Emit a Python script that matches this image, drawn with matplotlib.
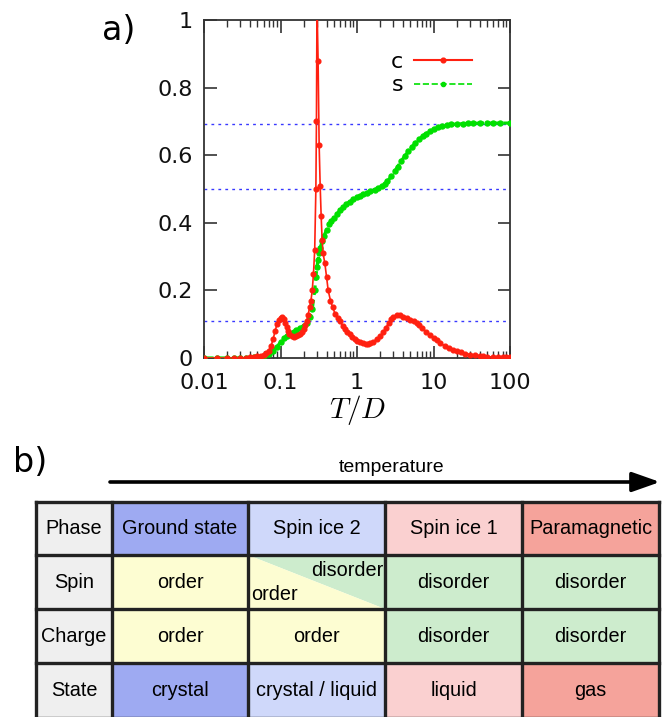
import matplotlib
matplotlib.use("Agg")
import matplotlib.pyplot as plt
from matplotlib.patches import Rectangle, Polygon
from matplotlib.lines import Line2D
from matplotlib.ticker import LogLocator, NullFormatter

plt.rcParams['mathtext.fontset'] = 'cm'

# ---------------- data ----------------
T_c = [0.01, 0.015, 0.02, 0.025, 0.03, 0.035, 0.04, 0.045, 0.05, 0.055, 0.06, 0.065, 0.07,
       0.075, 0.08, 0.085, 0.09, 0.095, 0.1, 0.105, 0.11, 0.115, 0.12, 0.125, 0.13, 0.14,
       0.15, 0.16, 0.17, 0.18, 0.19, 0.2, 0.21, 0.22, 0.23, 0.24, 0.25, 0.26, 0.27, 0.28,
       0.29, 0.295, 0.30, 0.31, 0.32, 0.33, 0.34, 0.35, 0.36, 0.38, 0.40, 0.42, 0.45, 0.48,
       0.52, 0.56, 0.60, 0.65, 0.70, 0.75, 0.80, 0.87, 0.95, 1.0, 1.1, 1.2, 1.3, 1.4, 1.5,
       1.6, 1.8, 2.0, 2.2, 2.4, 2.6, 2.8, 3.0, 3.3, 3.6, 4.0, 4.5, 5.0, 5.5, 6.0, 6.5, 7.0,
       8.0, 9.0, 10, 11, 12, 14, 16, 18, 20, 23, 26, 30, 35, 40, 45, 50, 60, 70, 80, 90, 100]
C_vals = [0.0, 0.0, 0.0, 0.0, 0.0, 0.001, 0.002, 0.003, 0.005, 0.007, 0.01, 0.015, 0.022,
          0.035, 0.055, 0.08, 0.1, 0.112, 0.118, 0.12, 0.115, 0.105, 0.092, 0.08, 0.072,
          0.066, 0.063, 0.064, 0.067, 0.071, 0.077, 0.086, 0.098, 0.11, 0.128, 0.15, 0.17,
          0.2, 0.25, 0.32, 0.5, 0.7, 1.05, 0.88, 0.63, 0.51, 0.42, 0.35, 0.31, 0.28, 0.24,
          0.20, 0.17, 0.15, 0.13, 0.118, 0.108, 0.095, 0.085, 0.077, 0.07, 0.062, 0.055,
          0.051, 0.046, 0.043, 0.042, 0.042, 0.044, 0.047, 0.055, 0.065, 0.077, 0.09, 0.105,
          0.115, 0.122, 0.127, 0.126, 0.122, 0.117, 0.112, 0.108, 0.103, 0.097, 0.09, 0.078,
          0.068, 0.059, 0.052, 0.045, 0.036, 0.03, 0.025, 0.021, 0.017, 0.013, 0.01, 0.008,
          0.006, 0.005, 0.004, 0.003, 0.003, 0.002, 0.002, 0.002]

T_s = [0.01, 0.015, 0.02, 0.025, 0.03, 0.035, 0.04, 0.045, 0.05, 0.06, 0.07, 0.08, 0.09,
       0.1, 0.11, 0.12, 0.13, 0.14, 0.15, 0.16, 0.18, 0.2, 0.22, 0.24, 0.26, 0.28, 0.29,
       0.30, 0.31, 0.32, 0.33, 0.35, 0.37, 0.4, 0.43, 0.46, 0.5, 0.55, 0.6, 0.66, 0.72,
       0.8, 0.9, 1.0, 1.1, 1.2, 1.35, 1.5, 1.7, 1.9, 2.1, 2.3, 2.5, 2.8, 3.1, 3.4, 3.8,
       4.2, 4.7, 5.2, 5.8, 6.5, 7.2, 8, 9, 10, 11.5, 13, 15, 17, 20, 24, 28, 33, 40, 50,
       60, 75, 100]
S_vals = [0.0, 0.0, 0.0, 0.0, 0.0, 0.0, 0.001, 0.002, 0.003, 0.007, 0.013, 0.022, 0.033,
          0.047, 0.058, 0.065, 0.07, 0.074, 0.078, 0.082, 0.088, 0.096, 0.105, 0.12, 0.145,
          0.2, 0.24, 0.27, 0.29, 0.31, 0.325, 0.345, 0.36, 0.38, 0.395, 0.405, 0.415, 0.427,
          0.437, 0.447, 0.455, 0.462, 0.469, 0.475, 0.48, 0.484, 0.489, 0.493, 0.498, 0.502,
          0.508, 0.515, 0.523, 0.537, 0.552, 0.566, 0.583, 0.597, 0.611, 0.624, 0.636,
          0.647, 0.656, 0.664, 0.671, 0.677, 0.682, 0.686, 0.689, 0.691, 0.692, 0.693,
          0.694, 0.694, 0.695, 0.695, 0.695, 0.695, 0.695]

ref_levels = [0.693, 0.5, 0.108]

x_ticks = [0.01, 0.1, 1, 10, 100]
x_ticklabels = ['0.01', '0.1', '1', '10', '100']
y_ticks = [0, 0.2, 0.4, 0.6, 0.8, 1]
y_ticklabels = ['0', '0.2', '0.4', '0.6', '0.8', '1']

row_labels = ['Phase', 'Spin', 'Charge', 'State']
phases = ['Ground state', 'Spin ice 2', 'Spin ice 1', 'Paramagnetic']
spin = ['order', None, 'disorder', 'disorder']
charge = ['order', 'order', 'disorder', 'disorder']
states = ['crystal', 'crystal / liquid', 'liquid', 'gas']

# ---------------- figure ----------------
W, H = 662, 717
fig = plt.figure(figsize=(W / 100, H / 100), dpi=100)

ax = fig.add_axes([204 / W, 1 - 358 / H, (510 - 204) / W, (358 - 20) / H])
ax.set_xscale('log')
ax.set_xlim(0.01, 100)
ax.set_ylim(0, 1)

for lv in ref_levels:
    ax.axhline(lv, color='#3838ff', ls=(0, (2, 3)), lw=1.0, zorder=1)

green_c = '#00e000'
red_c = '#ff2010'
ax.plot(T_s, S_vals, color=green_c, lw=2.3, ls=(0, (3, 1.5)), marker='o', ms=3.6,
        zorder=3)
ax.plot(T_c, C_vals, color=red_c, lw=1.2, marker='o', ms=3.4, zorder=4)

ax.set_xticks(x_ticks)
ax.set_xticklabels(x_ticklabels)
ax.xaxis.set_minor_locator(LogLocator(base=10, subs=range(2, 10)))
ax.xaxis.set_minor_formatter(NullFormatter())
ax.set_yticks(y_ticks)
ax.set_yticklabels(y_ticklabels)
ax.tick_params(axis='both', which='major', direction='in', length=9, width=1.2,
               top=True, right=True, labelsize=16, colors='#333333',
               labelcolor='#111111')
ax.tick_params(axis='x', which='major', pad=11)
ax.tick_params(axis='y', which='major', pad=8)
ax.tick_params(axis='x', which='minor', direction='in', length=5, width=1,
               top=True, bottom=True, colors='#333333')
for sp in ax.spines.values():
    sp.set_linewidth(1.3)
    sp.set_color('#333333')
ax.set_xlabel(r'$T/D$', fontsize=21, labelpad=0)

leg_handles = [Line2D([], [], color=red_c, lw=1.5, marker='o', ms=3.4),
               Line2D([], [], color=green_c, lw=1.2, ls='--', marker='o', ms=3.0)]
ax.legend(leg_handles, ['c', 's'], loc='upper right', bbox_to_anchor=(0.876, 0.905),
          frameon=False, markerfirst=False, fontsize=16, handlelength=2.6,
          handletextpad=0.5, labelspacing=0.15, borderpad=0, borderaxespad=0)

# ---------------- panel labels + table ----------------
ov = fig.add_axes([0, 0, 1, 1])
ov.set_xlim(0, W)
ov.set_ylim(H, 0)
ov.axis('off')
ov.set_zorder(-1)

ov.text(119, 30, 'a)', fontsize=24, ha='center', va='center', family='DejaVu Sans')
ov.text(30, 462, 'b)', fontsize=24, ha='center', va='center', family='DejaVu Sans')
ov.text(392, 467, 'temperature', fontsize=14, ha='center', va='center',
        family='Liberation Sans')
ov.annotate('', xy=(660, 482), xytext=(110, 482),
            arrowprops=dict(arrowstyle='-|>,head_length=1.7,head_width=0.6', lw=2.6,
                            color='black', shrinkA=0, shrinkB=0))

col_x = [36, 112, 248, 385, 522, 659]
row_y = [502, 555, 609, 663, 718]

grey = '#efefef'
phase_cols = ['#9eaaf2', '#cfd8fa', '#fad0d0', '#f5a39b']
yellow = '#fdfdd2'
green = '#cdeccd'
fs = 14.3
fam = 'Liberation Sans'


def cell(ci, ri, color, text=None):
    x0, x1 = col_x[ci], col_x[ci + 1]
    y0, y1 = row_y[ri], row_y[ri + 1]
    ov.add_patch(Rectangle((x0, y0), x1 - x0, y1 - y0, facecolor=color,
                           edgecolor='none'))
    if text:
        ov.text((x0 + x1) / 2, (y0 + y1) / 2, text, fontsize=fs, ha='center',
                va='center', family=fam)


for ri, lab in enumerate(row_labels):
    cell(0, ri, grey, lab)
for ci, ph in enumerate(phases):
    cell(ci + 1, 0, phase_cols[ci], ph)
    cell(ci + 1, 3, phase_cols[ci], states[ci])
    cc = yellow if charge[ci] == 'order' else green
    cell(ci + 1, 2, cc, charge[ci])
    if spin[ci] is None:
        x0, x1 = col_x[ci + 1], col_x[ci + 2]
        y0, y1 = row_y[1], row_y[2]
        ov.add_patch(Polygon([(x0, y0), (x1, y0), (x1, y1)], facecolor=green,
                             edgecolor='none'))
        ov.add_patch(Polygon([(x0, y0), (x0, y1), (x1, y1)], facecolor=yellow,
                             edgecolor='none'))
        ov.text(x1 - 2, y0 + 15, 'disorder', fontsize=fs, ha='right', va='center',
                family=fam)
        ov.text(x0 + 3, y1 - 15, 'order', fontsize=fs, ha='left', va='center',
                family=fam)
    else:
        sc = yellow if spin[ci] == 'order' else green
        cell(ci + 1, 1, sc, spin[ci])

for x in col_x:
    ov.plot([x, x], [row_y[0], row_y[-1]], color='#222222', lw=2.4,
            solid_capstyle='projecting')
for y in row_y:
    ov.plot([col_x[0], col_x[-1]], [y, y], color='#222222', lw=2.4,
            solid_capstyle='projecting')

fig.savefig('out.png', dpi=100)
